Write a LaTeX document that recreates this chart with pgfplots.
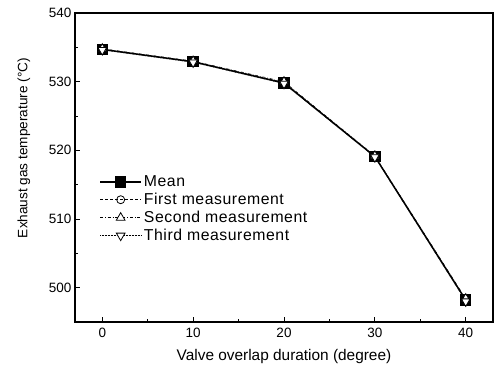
\documentclass[border=0pt]{standalone}
\usepackage{pgfplots}
\pgfplotsset{compat=1.18}
\usepackage{fontspec}
\setmainfont{Liberation Sans}
\newfontfamily\legfont[LetterSpace=3.5]{Liberation Sans}
\begin{document}
\begin{tikzpicture}
\begin{axis}[
  scale only axis,
  width=418pt, height=309pt,
  xmin=-3, xmax=43, ymin=495, ymax=540,
  xtick={0,10,20,30,40}, ytick={500,510,520,530,540},
  minor x tick num=1, minor y tick num=1,
  tick align=inside,
  xtick pos=bottom, ytick pos=left,
  major tick length=5pt, minor tick length=3pt,
  tick style={line width=0.9pt, black},
  axis line style={line width=1.2pt},
  /pgf/number format/assume math mode=true,
  /pgf/number format/set thousands separator={},
  ticklabel style={font=\fontsize{13.5}{15}\selectfont},
  xticklabel style={yshift=-3pt},
  xlabel={Valve overlap duration (degree)},
  ylabel={Exhaust gas temperature (\textdegree C)},
  xlabel style={font=\fontsize{15.4}{17}\selectfont, yshift=-4pt},
  ylabel style={font=\fontsize{13.6}{16}\selectfont, at={(ticklabel cs:0.563)}, yshift=12pt},
  legend style={draw=none, fill=none, at={(0.058,0.48)}, anchor=north west,
    font=\legfont\fontsize{15.8}{15}\selectfont, row sep=1pt, inner sep=0pt},
  legend cell align=left,
  legend image code/.code={\draw[mark repeat=2,mark phase=2,#1] plot coordinates {(0cm,0cm) (0.72cm,0cm) (1.44cm,0cm)};},
]
\addplot[black, line width=1.5pt, mark=square*, mark size=5pt] coordinates {(0,534.7) (10,532.9) (20,529.8) (30,519.1) (40,498.2)};
\addlegendentry{Mean}
\addplot[black, densely dashed, line width=0.5pt, mark=o, mark size=4pt, mark options={solid, fill=white, line width=0.8pt}] coordinates {(0,534.7) (10,532.9) (20,529.9) (30,519.1) (40,498.2)};
\addlegendentry{First measurement}
\addplot[black, dashdotted, line width=0.5pt, mark=triangle*, mark size=5pt, mark options={solid, fill=white, line width=0.8pt}] coordinates {(0,534.8) (10,533.0) (20,530.0) (30,519.2) (40,498.4)};
\addlegendentry{Second measurement}
\addplot[black, densely dotted, line width=0.5pt, mark=triangle*, mark size=5pt, mark options={solid, fill=white, line width=0.8pt, rotate=180}] coordinates {(0,534.6) (10,532.8) (20,529.7) (30,519.0) (40,498.0)};
\addlegendentry{Third measurement}
\end{axis}
\path (current axis.south west) ++(-75pt,-49pt) coordinate (bl);
\path (current axis.north east) ++(1pt,13pt) coordinate (tr);
\pgfresetboundingbox
\useasboundingbox (bl) rectangle (tr);
\end{tikzpicture}
\end{document}
